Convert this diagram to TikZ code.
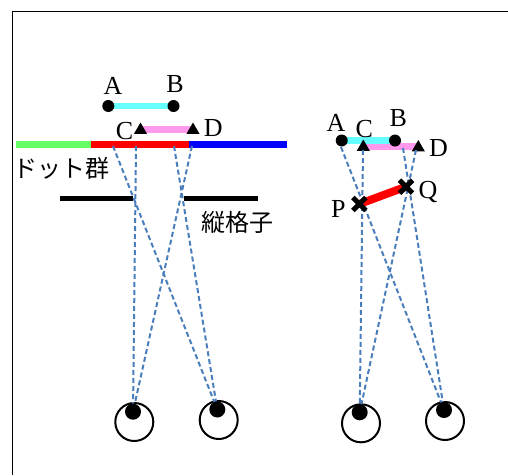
\documentclass[tikz,border=0pt]{standalone}
\usepackage{fontspec}
\setmainfont{Liberation Serif}
\newfontfamily\cjk{Noto Sans CJK JP}
\usetikzlibrary{shapes.geometric}
\definecolor{barcyan}{HTML}{66FFFF}
\definecolor{barpink}{HTML}{FF99EE}
\definecolor{bargreen}{HTML}{66FF66}
\definecolor{sight}{HTML}{4A7EBB}
\begin{document}
\begin{tikzpicture}[x=1pt,y=-1pt,
  lab/.style={font=\fontsize{26}{28}\selectfont, inner sep=0},
  jlab/.style={font=\cjk\fontsize{24}{26}\selectfont, inner sep=0},
  dotm/.style={circle, fill=black, minimum size=12pt, inner sep=0},
  trim/.style={regular polygon, regular polygon sides=3, fill=black, minimum size=15pt, inner sep=0},
  xmark/.pic={\draw[line width=5pt] (-6.5,-6.5)--(6.5,6.5) (-6.5,6.5)--(6.5,-6.5);},
  sightline/.style={sight, dash pattern=on 5pt off 3pt, line width=2pt},
  eye/.style={circle, draw, line width=2pt, minimum size=38pt, inner sep=0},
  pupil/.style={circle, fill=black, minimum size=16pt, inner sep=0},
  cbar/.style={line width=7pt},
  gbar/.style={line width=5pt, black},
]
\useasboundingbox (0,0) rectangle (508,475);
\draw[line width=1pt] (508,11) -- (12,11) -- (12,475);

% ---------- left figure ----------
\coordinate (g0) at (16,144);
\coordinate (g1) at (91,144);
\coordinate (g2) at (189.3,144);
\coordinate (g3) at (287.3,144);
\draw[cbar, bargreen] (g0) -- (g1);
\draw[cbar, red] (g1) -- (g2);
\draw[cbar, blue] (g2) -- (g3);

\coordinate (lA) at (108.3,106);
\coordinate (lB) at (173.5,106);
\coordinate (lC) at (140.5,129.5);
\coordinate (lD) at (193,129.5);
\draw[line width=6pt, barcyan] (lA) -- (lB);
\draw[cbar, barpink] (lC) -- (lD);
\node[dotm] (lAm) at (lA) {};
\node[dotm] (lBm) at (lB) {};
\node[trim] (lCm) at (140.5,130) {};
\node[trim] (lDm) at (193,130) {};
\node[lab] (lAl) at (113,86) {A};
\node[lab] (lBl) at (175,84) {B};
\node[lab] (lCl) at (124.5,131) {C};
\node[lab] (lDl) at (213.3,128.5) {D};

\node[jlab, anchor=west] (dots) at (13,168) {ドット群};
\node[jlab, anchor=west] (grid) at (201,222) {縦格子};

\coordinate (k0) at (60,198.7);
\coordinate (k1) at (133.3,198.7);
\coordinate (k2) at (184.3,198.7);
\coordinate (k3) at (257.7,198.7);
\draw[gbar] (k0) -- (k1);
\draw[gbar] (k2) -- (k3);

\node[eye] (e1) at (134.3,422) {};
\node[eye] (e2) at (218.7,420) {};
\coordinate (s1) at (113,146);
\coordinate (s2) at (136,146);
\coordinate (s3) at (174,146);
\coordinate (s4) at (192,146);
\node[pupil] (p1) at (133,411.7) {};
\node[pupil] (p2) at (217.3,409.5) {};
\draw[sightline] (s1) -- (p2);
\draw[sightline] (s2) -- (p1);
\draw[sightline] (s3) -- (p2);
\draw[sightline] (s4) -- (p1);

% ---------- right figure ----------
\coordinate (rA) at (341.7,140.5);
\coordinate (rB) at (395,140.5);
\coordinate (rC) at (363.3,146.5);
\coordinate (rD) at (418.3,146.5);
\draw[cbar, barpink] (rC) -- (rD);
\draw[cbar, barcyan] (rA) -- (rB);
\node[dotm] (rAm) at (rA) {};
\node[dotm] (rBm) at (rB) {};
\node[trim] (rCm) at (363.3,147) {};
\node[trim] (rDm) at (418.3,147.5) {};
\node[lab] (rAl) at (336,123.3) {A};
\node[lab] (rCl) at (364.3,129.3) {C};
\node[lab] (rBl) at (398.3,118.3) {B};
\node[lab] (rDl) at (438.5,148) {D};

\coordinate (P) at (359.3,204);
\coordinate (Q) at (406,186.7);
\draw[line width=8pt, red] (P) -- (Q);

\node[eye] (e3) at (361,423.3) {};
\node[eye] (e4) at (445,421) {};
\coordinate (t1) at (341,147);
\coordinate (t2) at (363,150);
\coordinate (t3) at (403,148);
\coordinate (t4) at (416,150);
\node[pupil] (p3) at (359.7,412.3) {};
\node[pupil] (p4) at (444,410) {};
\draw[sightline] (t1) -- (p4);
\draw[sightline] (t2) -- (p3);
\draw[sightline] (t3) -- (p4);
\draw[sightline] (t4) -- (p3);

\pic at (P) {xmark};
\pic at (Q) {xmark};
\node[lab] (Pl) at (338.3,209) {P};
\node[lab] (Ql) at (428,192) {Q};
\end{tikzpicture}
\end{document}
